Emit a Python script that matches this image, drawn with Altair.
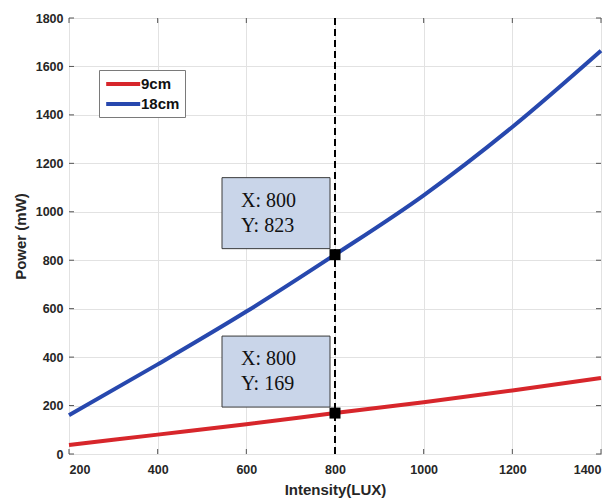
import altair as alt
import pandas as pd

# ---- data ----
intensity = [200, 400, 600, 800, 1000, 1200, 1400]
power_9cm = [37, 80, 123, 169, 214, 262, 314]
power_18cm = [160, 370, 588, 823, 1068, 1350, 1665]
series_names = ["9cm", "18cm"]
series_colors = ["#d7262b", "#2748ae"]
x_ticks = [200, 400, 600, 800, 1000, 1200, 1400]
y_ticks = [0, 200, 400, 600, 800, 1000, 1200, 1400, 1600, 1800]
cursor_x = [800]
tip_x = [800, 800]
tip_y = [823, 169]

W, H = 532, 436

lines_df = pd.DataFrame(
    {"x": intensity * 2,
     "y": power_9cm + power_18cm,
     "series": [series_names[0]] * len(intensity) + [series_names[1]] * len(intensity)}
)
tips_df = pd.DataFrame({"x": tip_x, "y": tip_y})
tips_df["label"] = [f"X: {a}\nY: {b}" for a, b in zip(tip_x, tip_y)]
xt_df = pd.DataFrame({"x": x_ticks})
yt_df = pd.DataFrame({"y": y_ticks})
vline_df = pd.DataFrame({"x": cursor_x})

xscale = alt.Scale(domain=[200, 1400], nice=False, zero=False)
yscale = alt.Scale(domain=[0, 1800], nice=False)

xaxis = alt.Axis(values=x_ticks, title="Intensity(LUX)", grid=True, tickSize=0,
                 labelPadding=9, titlePadding=7, domain=False, format="d")
yaxis = alt.Axis(values=y_ticks, title="Power (mW)", grid=True, tickSize=0,
                 labelPadding=6, titlePadding=7, domain=False, format="d")

lines = alt.Chart(lines_df).mark_line(strokeWidth=4, interpolate="monotone").encode(
    x=alt.X("x:Q", scale=xscale, axis=xaxis),
    y=alt.Y("y:Q", scale=yscale, axis=yaxis),
    color=alt.Color("series:N",
                    scale=alt.Scale(domain=series_names, range=series_colors),
                    sort=series_names,
                    legend=alt.Legend(title=None, orient="none", legendX=30, legendY=52,
                                      symbolType="M-1,0H4", symbolSize=185,
                                      symbolStrokeWidth=4, labelFont="Liberation Sans",
                                      labelFontWeight="bold", labelFontSize=15,
                                      labelColor="#111111", labelOffset=19,
                                      rowPadding=3, padding=5,
                                      strokeColor="#7a7a7a", fillColor="white")),
)

vline = alt.Chart(vline_df).mark_rule(color="black", strokeWidth=2, strokeDash=[7, 4]).encode(
    x=alt.X("x:Q", scale=xscale)
)

boxes = alt.Chart(tips_df).mark_rect(
    fill="#c9d5e9", stroke="#3a3a3a", strokeWidth=1,
    xOffset=-113, x2Offset=-5, yOffset=-77, y2Offset=-6,
).encode(
    x=alt.X("x:Q", scale=xscale), x2="x:Q",
    y=alt.Y("y:Q", scale=yscale), y2="y:Q",
)

texts = alt.Chart(tips_df).mark_text(
    font="Liberation Serif", fontSize=20, align="left", baseline="alphabetic",
    dx=-94, dy=-48, lineBreak="\n", lineHeight=25, color="#111111",
).encode(
    x=alt.X("x:Q", scale=xscale),
    y=alt.Y("y:Q", scale=yscale),
    text="label:N",
)

squares = alt.Chart(tips_df).mark_square(size=121, color="black", opacity=1, filled=True).encode(
    x=alt.X("x:Q", scale=xscale),
    y=alt.Y("y:Q", scale=yscale),
)

tick_col = "#555555"
xt_bottom = alt.Chart(xt_df).mark_rule(color=tick_col, strokeWidth=1).encode(
    x=alt.X("x:Q", scale=xscale), y=alt.value(H), y2=alt.value(H - 5))
xt_top = alt.Chart(xt_df).mark_rule(color=tick_col, strokeWidth=1).encode(
    x=alt.X("x:Q", scale=xscale), y=alt.value(0), y2=alt.value(5))
yt_left = alt.Chart(yt_df).mark_rule(color=tick_col, strokeWidth=1).encode(
    y=alt.Y("y:Q", scale=yscale), x=alt.value(0), x2=alt.value(5))
yt_right = alt.Chart(yt_df).mark_rule(color=tick_col, strokeWidth=1).encode(
    y=alt.Y("y:Q", scale=yscale), x=alt.value(W - 5), x2=alt.value(W))

chart = alt.layer(
    xt_bottom, xt_top, yt_left, yt_right, lines, vline, boxes, texts, squares
).properties(
    width=W, height=H,
    autosize=alt.AutoSizeParams(type="none"),
    padding={"left": 61, "top": 10, "right": 6, "bottom": 44},
).configure_view(
    stroke="#555555", strokeWidth=1
).configure_axis(
    gridColor="#e2e2e2", gridWidth=1,
    labelFont="Liberation Sans", labelFontWeight="bold", labelFontSize=12.5,
    labelColor="#262626",
    titleFont="Liberation Sans", titleFontWeight="bold", titleFontSize=15,
    titleColor="#262626",
)

chart.save("out.html", embed_options={"renderer": "svg", "actions": False})
